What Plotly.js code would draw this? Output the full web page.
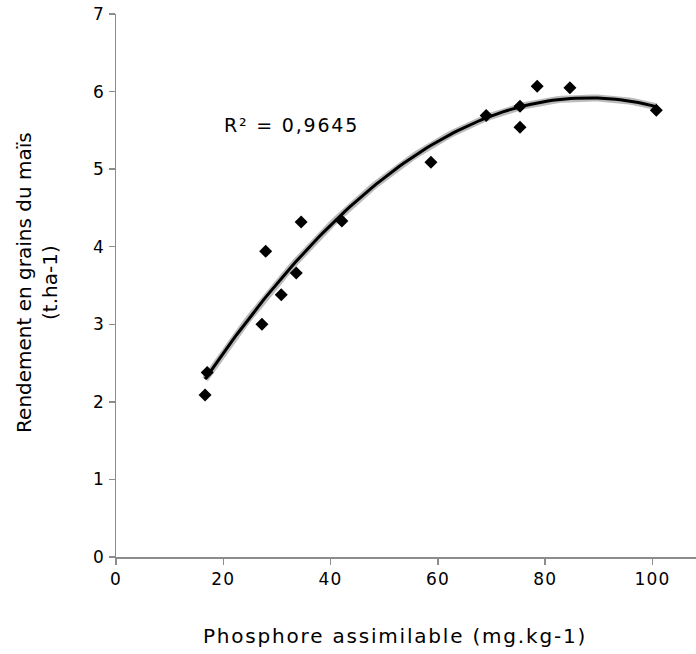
<!DOCTYPE html>
<html>
<head>
<meta charset="utf-8">
<script src="https://cdn.plot.ly/plotly-3.0.1.min.js"></script>
<style>
html,body{margin:0;padding:0;background:#fff;}
#chart{width:696px;height:654px;}
#chart .xtick text, #chart .ytick text { letter-spacing: 1.2px; }
</style>
</head>
<body>
<div id="chart"></div>
<script>
// Data
const phosphore = [16.6, 17.0, 27.2, 27.9, 30.8, 33.6, 34.5, 42.1, 58.7, 69.0, 75.3, 75.3, 78.5, 84.6, 100.7];
const rendement = [2.09, 2.38, 3.00, 3.94, 3.38, 3.66, 4.32, 4.33, 5.09, 5.69, 5.81, 5.54, 6.07, 6.05, 5.76];
const xTicks = [0, 20, 40, 60, 80, 100];
const yTicks = [0, 1, 2, 3, 4, 5, 6, 7];
const r2Label = 'R² = 0,9645';
const xTitle = 'Phosphore assimilable (mg.kg-1)';
const yTitle = 'Rendement en grains du maïs<br>(t.ha-1)';

// Quadratic least-squares trend line computed from the data
function quadFit(xs, ys) {
  let S = [0,0,0,0,0], T = [0,0,0];
  for (let i = 0; i < xs.length; i++) {
    let p = 1;
    for (let k = 0; k < 5; k++) { S[k] += p; if (k < 3) T[k] += p * ys[i]; p *= xs[i]; }
  }
  const A = [[S[0],S[1],S[2],T[0]],[S[1],S[2],S[3],T[1]],[S[2],S[3],S[4],T[2]]];
  for (let c = 0; c < 3; c++) {
    for (let r = c + 1; r < 3; r++) {
      const f = A[r][c] / A[c][c];
      for (let k = c; k < 4; k++) A[r][k] -= f * A[c][k];
    }
  }
  const b = [0,0,0];
  for (let r = 2; r >= 0; r--) {
    let s = A[r][3];
    for (let k = r + 1; k < 3; k++) s -= A[r][k] * b[k];
    b[r] = s / A[r][r];
  }
  return b;
}
const coef = quadFit(phosphore, rendement);
const xmin = Math.min(...phosphore), xmax = Math.max(...phosphore);
const trendX = [], trendY = [];
for (let i = 0; i <= 100; i++) {
  const x = xmin + (xmax - xmin) * i / 100;
  trendX.push(x);
  trendY.push(coef[0] + coef[1] * x + coef[2] * x * x);
}

const FONT = 'DejaVu Sans, Verdana, sans-serif';
const wide = s => '<span style="letter-spacing:1.8px">' + s + '</span>';
const data = [
  {x: trendX, y: trendY, mode: 'lines', line: {color: 'rgba(170,170,170,0.8)', width: 7}, hoverinfo: 'skip', showlegend: false},
  {x: trendX, y: trendY, mode: 'lines', line: {color: '#000', width: 3}, hoverinfo: 'skip', showlegend: false},
  {x: phosphore, y: rendement, mode: 'markers', marker: {symbol: 'diamond', size: 10, color: '#000'}, showlegend: false}
];
const axisCommon = {
  showgrid: false, zeroline: false, showline: true, linecolor: '#8c8c8c', linewidth: 1.5,
  ticks: 'outside', ticklen: 6, tickwidth: 1.5, tickcolor: '#8c8c8c',
  tickfont: {family: FONT, size: 17, color: '#000'}
};
const layout = {
  width: 696, height: 654,
  margin: {l: 116, r: 0, t: 14, b: 97},
  paper_bgcolor: '#fff', plot_bgcolor: '#fff',
  showlegend: false,
  xaxis: Object.assign({}, axisCommon, {range: [0, 108.1], tickvals: xTicks, ticktext: xTicks.map(String)}),
  yaxis: Object.assign({}, axisCommon, {range: [0, 7], tickvals: yTicks, ticktext: yTicks.map(String)}),
  annotations: [
    {text: wide(r2Label), x: 19.8, y: 5.57, xref: 'x', yref: 'y', xanchor: 'left', yanchor: 'middle', showarrow: false,
     font: {family: FONT, size: 19, color: '#000'}},
    {text: wide(xTitle), x: 0.481, y: -0.1455, xref: 'paper', yref: 'paper',
     xanchor: 'center', yanchor: 'middle', showarrow: false, font: {family: FONT, size: 20, color: '#000'}},
    {text: yTitle, x: -0.136, y: 0.505, xref: 'paper', yref: 'paper',
     xanchor: 'center', yanchor: 'middle', textangle: -90, showarrow: false, font: {family: FONT, size: 20, color: '#000'}}
  ]
};
Plotly.newPlot('chart', data, layout, {displayModeBar: false, staticPlot: true});
</script>
</body>
</html>
